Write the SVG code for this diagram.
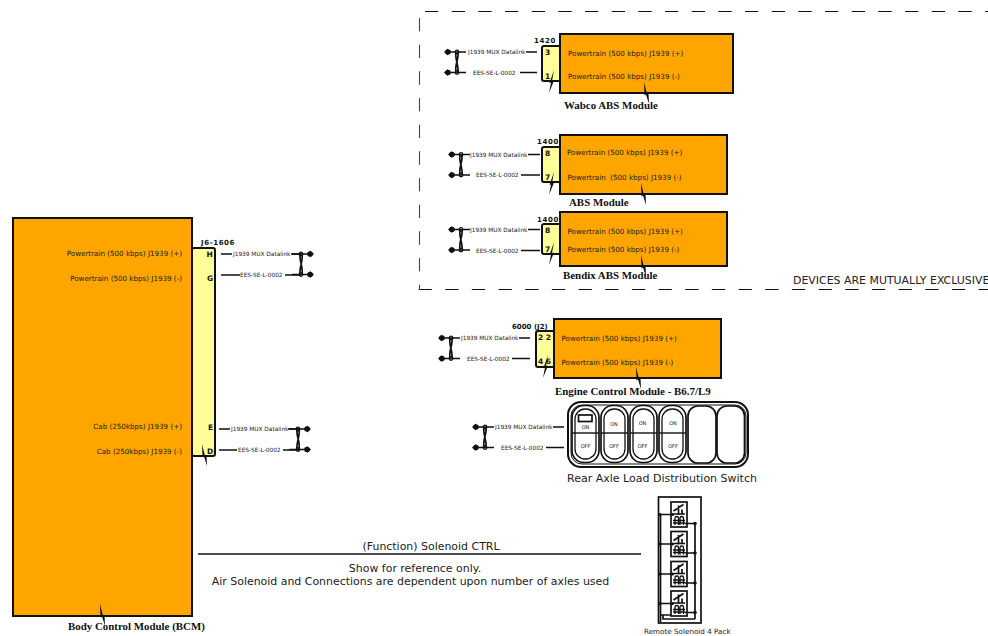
<svg xmlns="http://www.w3.org/2000/svg" width="988" height="636" viewBox="0 0 988 636">
<style>
text{font-family:"DejaVu Sans","Liberation Sans",sans-serif;fill:#222}
.mod{fill:#ffa500;stroke:#111;stroke-width:2}
.conn{fill:#ffff99;stroke:#111;stroke-width:2}
.sig{font-size:7.150px}
.wl{font-size:5.800px}
.pin{font-size:7.500px;font-weight:bold;fill:#111}
.ref{font-size:7px;font-weight:bold;fill:#111;letter-spacing:.6px}
.title{font-family:"Liberation Serif",serif;font-size:10.900px;font-weight:bold;fill:#111}
.lbl{font-size:10.950px}
.sw{font-size:5px;text-anchor:middle}
.w{fill:none;stroke:#111;stroke-width:1.700}
.t{fill:none;stroke:#111;stroke-width:1.300}
.k{fill:#111;stroke:none}
</style>
<defs>
<g id="tw">
<path class="w" d="M1 0H22M1 20.500H22"/>
<path class="k" d="M0 0L4 -3.500V3.500ZM0 20.500L4 17V24Z"/>
<circle class="k" cx="4" cy="0" r="2.800"/><circle class="k" cx="4" cy="20.500" r="2.800"/>
<path class="w" d="M12 0C10.500 7 15 13 14 20.500M14 0C15 7 10.500 13 12 20.500"/>
<circle class="t" cx="13" cy="0" r="1.800"/><circle class="t" cx="13" cy="20.500" r="1.800"/>
</g>
<path id="z1" class="k" d="M0 0L3 12L4.500 11L5 22L2 12.500L0.500 13.500Z"/>
<path id="z2" class="k" d="M5 0L3 11L5 10.500L0 23L2 12.500L0.500 13Z"/>
<g id="sol">
<rect x="0" y="0" width="16" height="25" fill="#fff" stroke="#111" stroke-width="1.700"/>
<path class="w" d="M2.500 9L12.500 2.500M7.500 3.500V13M2.500 12H14M11 7.500V12"/>
<path class="t" d="M4 23V16C4 14 7.500 14 7.500 16V23M9 23V16C9 14 12.500 14 12.500 16V23"/>
<path class="t" d="M2 18.500H14M2 21H14"/>
<path class="w" d="M-11 12.500H2M14 21.500H24"/>
<circle class="k" cx="-11" cy="12.500" r="1.600"/><circle class="k" cx="1.500" cy="12.500" r="1.600"/><circle class="k" cx="24" cy="21.500" r="1.800"/>
</g>
<g id="rk">
<rect x="0" y="0" width="27" height="57" rx="12" fill="#fff" stroke="#111" stroke-width="1.700"/>
<rect x="3" y="3.500" width="21" height="50" rx="10" fill="#fff" stroke="#111" stroke-width="1.300"/>
<path class="t" style="stroke-width:1.400" d="M0 27.500H27"/>
</g>
</defs>
<path id="boundary" fill="none" stroke="#111" stroke-width="1.100" stroke-dasharray="13.300 13.370" d="M425 11.500H988M418.500 289.500H988"/>
<path id="boundary-left" fill="none" stroke="#444" stroke-width="1.100" stroke-dasharray="13.300 13.370" d="M419.500 18V290"/>
<text x="793" y="284" class="lbl">DEVICES ARE MUTUALLY EXCLUSIVE</text>

<g id="connectors">
<use href="#tw" x="444" y="52"/>
<path class="w" d="M526 52H537M520 72.500H537"/>
<use href="#tw" x="448" y="154.500"/>
<path class="w" d="M528 154.500H540M521 175H540"/>
<use href="#tw" x="448" y="229.500"/>
<path class="w" d="M528 229.500H540M521 250.500H540"/>
<use href="#tw" x="438" y="338"/>
<path class="w" d="M519 338H530M512 358.500H530"/>
<use href="#tw" x="472" y="427"/>
<path class="w" d="M553 427H564M546 447.500H564"/>
<g transform="translate(314 254) scale(-1 1)"><use href="#tw"/></g>
<path class="w" d="M221 254H232M221 275H240M285 275H301M291 254H301"/>
<g transform="translate(311 429) scale(-1 1)"><use href="#tw"/></g>
<path class="w" d="M219 429H230M219 450H237M283 450H299M288 429H299"/>
<path class="w" d="M198 554H641"/>
</g>

<g id="bcm">
<rect class="mod" x="13" y="218" width="179" height="398"/>
<text class="sig" x="182" y="256" text-anchor="end">Powertrain (500 kbps) J1939 (+)</text>
<text class="sig" x="182" y="281" text-anchor="end">Powertrain (500 kbps) J1939 (-)</text>
<text class="sig" x="182" y="429" text-anchor="end">Cab (250kbps) J1939 (+)</text>
<text class="sig" x="182" y="454" text-anchor="end">Cab (250kbps) J1939 (-)</text>
<rect class="conn" x="192" y="248" width="23" height="208" rx="2"/>
<text class="ref" x="201" y="245">J6-1606</text>
<text class="pin" x="206.500" y="257">H</text><text class="pin" x="207" y="281">G</text>
<text class="pin" x="208" y="429.500">E</text><text class="pin" x="207" y="453.500">D</text>
<use href="#z1" x="202" y="444"/>
<use href="#z1" x="100" y="604"/>
<text class="title" x="68" y="630">Body Control Module (BCM)</text>
<text class="wl" x="233" y="256">J1939 MUX Datalink</text>
<text class="wl" x="240" y="277">EES-SE-L-0002</text>
<text class="wl" x="231" y="431">J1939 MUX Datalink</text>
<text class="wl" x="238" y="452">EES-SE-L-0002</text>
</g>

<g id="wabco">
<rect class="conn" x="542" y="46" width="20" height="35" rx="2"/>
<rect class="mod" x="560" y="34" width="173" height="59"/>
<text class="ref" x="534" y="43">1420</text>
<text class="pin" x="545" y="55">3</text><text class="pin" x="545" y="79">1</text>
<use href="#z2" x="549" y="70"/><use href="#z1" x="644" y="82"/>
<text class="sig" x="568" y="56">Powertrain (500 kbps) J1939 (+)</text>
<text class="sig" x="568" y="79">Powertrain (500 kbps) J1939 (-)</text>
<text class="title" x="564" y="109">Wabco ABS Module</text>
<text class="wl" x="468" y="54">J1939 MUX Datalink</text>
<text class="wl" x="473" y="75">EES-SE-L-0002</text>
</g>

<g id="abs">
<rect class="conn" x="542" y="147" width="20" height="35" rx="2"/>
<rect class="mod" x="560" y="135" width="167" height="59"/>
<text class="ref" x="537" y="144">1400</text>
<text class="pin" x="545" y="156">8</text><text class="pin" x="545" y="180">7</text>
<use href="#z2" x="549" y="172"/><use href="#z1" x="641" y="183"/>
<text class="sig" x="567" y="155">Powertrain (500 kbps) J1939 (+)</text>
<text class="sig" x="567.500" y="180" xml:space="preserve">Powertrain  (500 kbps) J1939 (-)</text>
<text class="title" x="569" y="206">ABS Module</text>
<text class="wl" x="470" y="156.500">J1939 MUX Datalink</text>
<text class="wl" x="476" y="177">EES-SE-L-0002</text>
</g>

<g id="bendix">
<rect class="conn" x="542" y="224" width="20" height="30" rx="2"/>
<rect class="mod" x="560" y="212" width="167" height="54"/>
<text class="ref" x="537" y="222">1400</text>
<text class="pin" x="545" y="233">8</text><text class="pin" x="545" y="252">7</text>
<use href="#z2" x="549" y="242"/><use href="#z1" x="641" y="255"/>
<text class="sig" x="567.500" y="234">Powertrain (500 kbps) J1939 (+)</text>
<text class="sig" x="567.500" y="252">Powertrain (500 kbps) J1939 (-)</text>
<text class="title" x="563" y="279">Bendix ABS Module</text>
<text class="wl" x="470" y="231.500">J1939 MUX Datalink</text>
<text class="wl" x="476" y="252.500">EES-SE-L-0002</text>
</g>

<g id="engine">
<rect class="conn" x="536" y="331" width="20" height="36" rx="2"/>
<rect class="mod" x="554" y="319" width="167" height="59"/>
<text class="ref" x="512" y="329" style="letter-spacing:0">6000 (J2)</text>
<text class="pin" x="538" y="340">2 2</text><text class="pin" x="538" y="364">4 6</text>
<use href="#z2" x="543" y="355"/><use href="#z1" x="636" y="367"/>
<text class="sig" x="561.500" y="341">Powertrain (500 kbps) J1939 (+)</text>
<text class="sig" x="561.500" y="365">Powertrain (500 kbps) J1939 (-)</text>
<text class="title" x="555" y="395">Engine Control Module - B6.7/L9</text>
<text class="wl" x="461" y="340">J1939 MUX Datalink</text>
<text class="wl" x="467" y="360.500">EES-SE-L-0002</text>
</g>

<g id="switch">
<rect x="568" y="402" width="180" height="65" rx="13" fill="#fff" stroke="#111" stroke-width="2"/>
<rect x="571" y="405" width="175" height="59" rx="11" fill="#fff" stroke="#111" stroke-width="1"/>
<use href="#rk" x="572" y="405.500"/><use href="#rk" x="601" y="405.500"/><use href="#rk" x="630" y="405.500"/><use href="#rk" x="659" y="405.500"/>
<rect x="688" y="406" width="28" height="57" rx="10" fill="#fff" stroke="#111" stroke-width="1.700"/>
<rect x="717" y="406" width="27.500" height="57" rx="10" fill="#fff" stroke="#111" stroke-width="1.700"/>
<rect x="578.500" y="415" width="13.500" height="6.500" fill="#fff" stroke="#111" stroke-width="1.700"/>
<text class="sw" x="585.500" y="429">ON</text><text class="sw" x="585.500" y="448">OFF</text>
<text class="sw" x="614" y="426">ON</text><text class="sw" x="614" y="448">OFF</text>
<text class="sw" x="642.500" y="425">ON</text><text class="sw" x="642.500" y="448">OFF</text>
<text class="sw" x="673" y="425">ON</text><text class="sw" x="673" y="448">OFF</text>
<text x="567" y="482" style="font-size:11px">Rear Axle Load Distribution Switch</text>
<text class="wl" x="495" y="429">J1939 MUX Datalink</text>
<text class="wl" x="501" y="449.500">EES-SE-L-0002</text>
</g>

<g id="solenoids">
<rect x="658.500" y="497" width="42.500" height="126" fill="#fff" stroke="#111" stroke-width="1.700"/>
<use href="#sol" x="671" y="502"/><use href="#sol" x="671" y="531.500"/><use href="#sol" x="671" y="561.500"/><use href="#sol" x="671" y="591"/>
<path class="w" d="M695 523V619M660.500 515V622M660 615H671M663 615V619H695"/>
<text x="644" y="634" style="font-size:7.200px">Remote Solenoid 4 Pack</text>
</g>

<text x="431" y="550" text-anchor="middle" class="lbl">(Function) Solenoid CTRL</text>
<text x="415" y="572" text-anchor="middle" class="lbl">Show for reference only.</text>
<text x="410.500" y="585" text-anchor="middle" class="lbl">Air Solenoid and Connections are dependent upon number of axles used</text>
</svg>
